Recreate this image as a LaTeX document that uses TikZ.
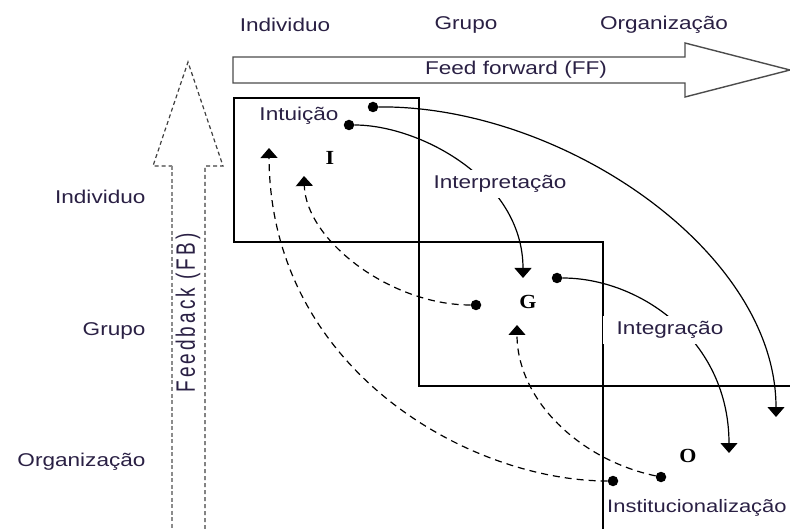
\documentclass[tikz,border=0pt]{standalone}
\usepackage{xcolor}
\usepackage{fontspec}
\setmainfont[FakeStretch=1.22]{Liberation Sans}
\newfontfamily\lettrefont[FakeStretch=1.1]{Liberation Serif}
\newfontfamily\fbfont[LetterSpace=16]{Liberation Sans}
\usetikzlibrary{arrows.meta}
\definecolor{txtcol}{HTML}{2A2044}

\begin{document}
\begin{tikzpicture}[x=1pt,y=-1pt,font=\fontsize{18.5}{20}\selectfont,text=txtcol]
        \tikzset{dot style/.style = {circle,fill=black,inner sep=0pt,minimum size=10.5pt},
                 ff style/.style = {line width=1.2pt,-{Triangle[width=17pt,length=10pt]}},
                 fb style/.style = {ff style,dash pattern=on 7pt off 5pt},
                 lab style/.style = {fill=white,inner xsep=14pt,inner ysep=5pt},
                 lettre/.style = {font=\lettrefont\bfseries\fontsize{20}{22}\selectfont,text=black}}
        \useasboundingbox (0,0) rectangle (790,529);
        % niveaux
        \node (hInd) at (285,25) {Individuo};
        \node (hGru) at (466,25) {Grupo};
        \node (hOrg) at (664,25) {Organização};
        \node[anchor=east] (vInd) at (149,197) {Individuo};
        \node[anchor=east] (vGru) at (149,331) {Grupo};
        \node[anchor=east] (vOrg) at (149,462) {Organização};
        % feed forward
        \draw[black!70,line width=1.4pt] (233,57) -- (685,57) -- (685,43) -- (790,70)
            -- (685,97) -- (685,83) -- (233,83) -- cycle;
        \node (ff) at (516,70) {Feed forward (FF)};
        % feedback
        \draw[black!75,line width=1.2pt,dash pattern=on 4pt off 3pt]
            (205,529) -- (205,166) -- (223,166) -- (188,62) -- (153,166) -- (172,166);
        \draw[black!45,line width=2pt,dash pattern=on 4pt off 2.5pt] (172,166) -- (172,529);
        \node[rotate=90] (fb) at (188,313) {\scalebox{1}[1.4]{\fbfont\fontsize{19}{20}\selectfont Feedback (FB)}};
        % cadres
        \draw[line width=1.2pt] (234,98) rectangle (419,242);
        \draw[line width=1.2pt] (419,242) rectangle (603,386);
        \draw[line width=1.2pt] (603,529) -- (603,386) -- (790,386);
        % points
        \node[dot style] (iO) at (373,107) {};
        \node[dot style] (iG) at (349,125) {};
        \node[dot style] (gO) at (557,278) {};
        \node[dot style] (gI) at (476,305) {};
        \node[dot style] (oI) at (613,481) {};
        \node[dot style] (oG) at (661,477) {};
        \coordinate (toO1) at (776,417);
        \coordinate (toG1) at (523,278);
        \coordinate (toO2) at (729,453);
        \coordinate (toI1) at (304,176);
        \coordinate (toI2) at (269,148);
        \coordinate (toG2) at (517,325);
        % fleches
        \draw[ff style] (iO) .. controls (560,105) and (776,250) .. (toO1);
        \draw[ff style] (iG) .. controls (420,125) and (523,180) .. (toG1);
        \draw[ff style] (gO) .. controls (640,278) and (729,340) .. (toO2);
        \draw[fb style] (gI) .. controls (390,305) and (306,240) .. (toI1);
        \draw[fb style] (oI) .. controls (470,481) and (270,370) .. (toI2);
        \draw[fb style] (oG) .. controls (580,460) and (517,400) .. (toG2);
        % processus
        \node (intu) at (299,116) {Intuição};
        \node[lab style] (interp) at (500,184) {Interpretação};
        \node[lab style] (integ) at (670,330) {Integração};
        \node[anchor=west,inner sep=0pt,font=\fontsize{18}{20}\selectfont] (inst) at (607,508) {Institucionalização};
        \node[lettre] (lI) at (330,158) {I};
        \node[lettre] (lG) at (528,302) {G};
        \node[lettre] (lO) at (688,456) {O};
    \end{tikzpicture}
\end{document}
